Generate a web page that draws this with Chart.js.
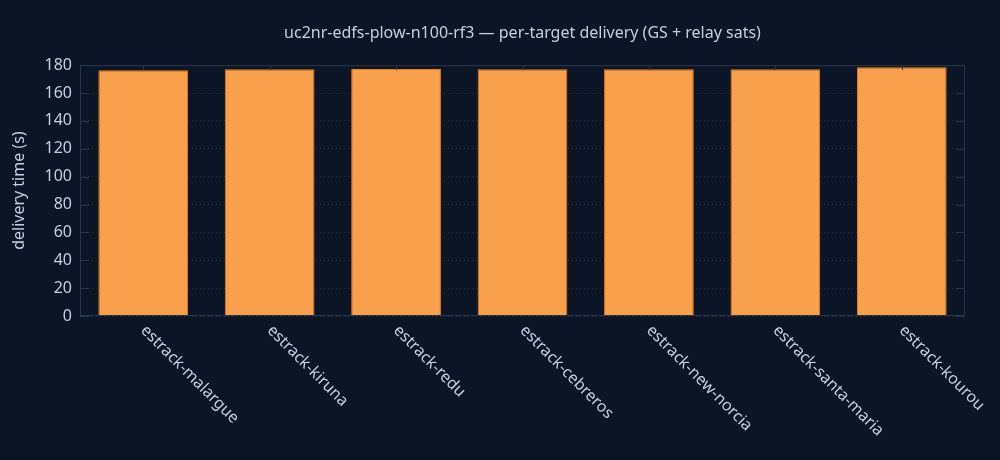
<!DOCTYPE html>
<html>
<head>
<meta charset="utf-8">
<script src="https://cdn.jsdelivr.net/npm/chart.js@4"></script>
<style>
  html, body { margin: 0; padding: 0; background: #0b1526; }
  #wrap { width: 1000px; height: 460px; }
</style>
</head>
<body>
<div id="wrap"><canvas id="grafico"></canvas></div>
<script>
// Datos
const estaciones = ['estrack-malargue', 'estrack-kiruna', 'estrack-redu', 'estrack-cebreros',
  'estrack-new-norcia', 'estrack-santa-maria', 'estrack-kourou'];
const tiemposEntrega = [176.4, 177.1, 177.2, 177.1, 177.1, 177.1, 178.5];
const ticksY = [0, 20, 40, 60, 80, 100, 120, 140, 160, 180];

const colorTexto = '#c3d0e2';
const colorMarco = '#28364d';
const fuente = 'Noto Sans';

// Marco con marcas hacia dentro y etiquetas del eje x giradas
const marcoPlugin = {
  id: 'marco',
  afterDatasetsDraw(chart) {
    const { ctx, chartArea: a, scales } = chart;
    ctx.save();
    ctx.strokeStyle = colorMarco;
    ctx.lineWidth = 1;
    ctx.strokeRect(a.left + 0.5, a.top + 0.5, a.right - a.left - 1, a.bottom - a.top - 1);
    ctx.beginPath();
    ticksY.forEach(v => {
      const y = Math.round(scales.y.getPixelForValue(v)) + 0.5;
      ctx.moveTo(a.left, y); ctx.lineTo(a.left + 9, y);
      ctx.moveTo(a.right - 9, y); ctx.lineTo(a.right, y);
    });
    estaciones.forEach((_, i) => {
      const x = Math.round(scales.x.getPixelForValue(i)) + 0.5;
      ctx.moveTo(x, a.top); ctx.lineTo(x, a.top + 5);
    });
    ctx.stroke();

    ctx.fillStyle = colorTexto;
    ctx.font = '16px "' + fuente + '"';
    ctx.textAlign = 'left';
    ctx.textBaseline = 'middle';
    estaciones.forEach((nombre, i) => {
      const x = scales.x.getPixelForValue(i);
      ctx.save();
      ctx.translate(x, a.bottom + 12);
      ctx.rotate(Math.PI / 4);
      ctx.fillText(nombre, 0, 0);
      ctx.restore();
    });
    ctx.restore();
  }
};

function inicializarGrafico() {
  const ctx = document.getElementById('grafico').getContext('2d');
  new Chart(ctx, {
    type: 'bar',
    data: {
      labels: estaciones,
      datasets: [{
        label: 'delivery time',
        data: tiemposEntrega,
        backgroundColor: '#f8a04b',
        borderColor: '#f47c14',
        borderWidth: 1,
        barPercentage: 0.71,
        categoryPercentage: 1,
      }],
    },
    options: {
      responsive: true,
      maintainAspectRatio: false,
      animation: false,
      layout: { padding: { left: 0, right: 35, top: 0, bottom: 0 } },
      plugins: {
        legend: { display: false },
        tooltip: { enabled: false },
        title: {
          display: true,
          fullSize: false,
          text: 'uc2nr-edfs-plow-n100-rf3 — per-target delivery (GS + relay sats)',
          color: colorTexto,
          font: { family: fuente, size: 16, weight: 'normal' },
          padding: { top: 24, bottom: 22 },
        },
      },
      scales: {
        x: {
          grid: { display: false },
          border: { display: false },
          ticks: { display: false },
          afterFit: scale => { scale.height = 144; },
        },
        y: {
          min: 0,
          max: 180,
          afterBuildTicks: scale => { scale.ticks = ticksY.map(v => ({ value: v })); },
          grid: { color: 'rgba(255,255,255,0.13)', drawTicks: false },
          border: { display: false, dash: [1, 3] },
          ticks: { color: colorTexto, font: { family: fuente, size: 16 }, padding: 8 },
          title: {
            display: true,
            text: 'delivery time (s)',
            color: colorTexto,
            font: { family: fuente, size: 16 },
            padding: { top: 10, bottom: 0 },
          },
          afterFit: scale => { scale.width = 80; },
        },
      },
    },
    plugins: [marcoPlugin],
  });
}

window.onload = inicializarGrafico;
</script>
</body>
</html>
